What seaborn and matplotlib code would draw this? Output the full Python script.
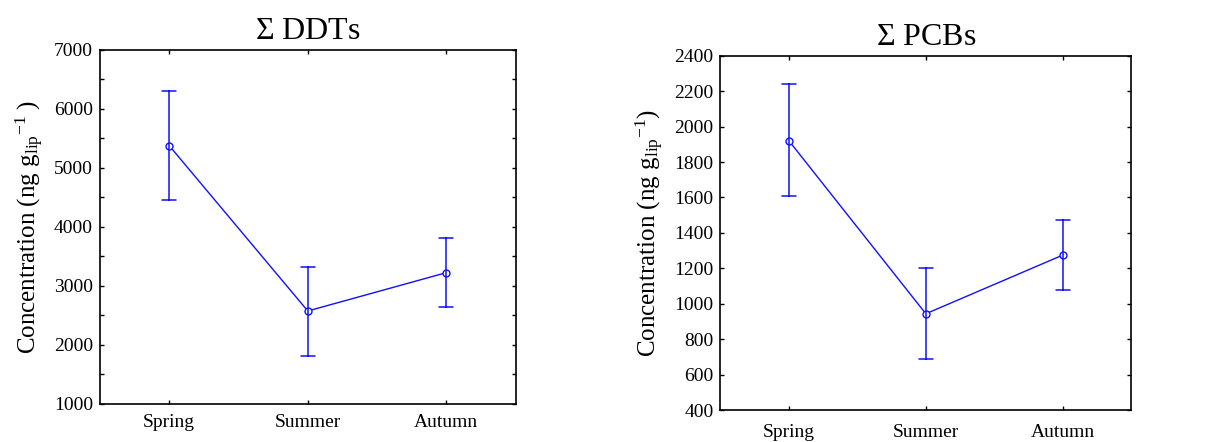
import seaborn as sns
import pandas as pd
import matplotlib.pyplot as plt
from matplotlib.ticker import MultipleLocator

# values (mean and error bar ends)
seasons = ['Spring', 'Summer', 'Autumn']
ddt_low = [4458, 1814, 2650]
ddt_mean = [5378, 2576, 3226]
ddt_high = [6310, 3328, 3814]
pcb_low = [1610, 686, 1077]
pcb_mean = [1920, 944, 1275]
pcb_high = [2239, 1203, 1474]

sns.set_style('ticks')
plt.rcParams['font.family'] = ['Liberation Serif', 'DejaVu Serif']
plt.rcParams['mathtext.fontset'] = 'custom'
plt.rcParams['mathtext.rm'] = 'Liberation Serif'
plt.rcParams['mathtext.it'] = 'Liberation Serif:italic'
for key in ['text.color', 'axes.labelcolor', 'xtick.color', 'ytick.color']:
    plt.rcParams[key] = 'black'


def long_form(low, mean, high):
    rows = []
    for s, a, m, b in zip(seasons, low, mean, high):
        for v in (a, m, b):
            rows.append({'season': s, 'value': v})
    return pd.DataFrame(rows)


fig = plt.figure(figsize=(12.19, 4.42), dpi=100)
ax1 = fig.add_axes([0.082, 0.086, 0.341, 0.801])
ax2 = fig.add_axes([0.591, 0.072, 0.337, 0.802])

panels = [
    (ax1, long_form(ddt_low, ddt_mean, ddt_high), r'$\Sigma$ DDTs',
     r'Concentration (ng g$_{\mathrm{lip}}$$^{\mathrm{-1}}$ )', (1000, 7000), 1000, 500, 7),
    (ax2, long_form(pcb_low, pcb_mean, pcb_high), r'$\Sigma$ PCBs',
     r'Concentration (ng g$_{\mathrm{lip}}$$^{\mathrm{-1}}$)', (400, 2400), 200, None, 10),
]

for ax, df, title, ylabel, ylim, major, minor, xpad in panels:
    sns.pointplot(data=df, x='season', y='value', order=seasons, ax=ax,
                  estimator='median', errorbar=lambda v: (v.min(), v.max()),
                  color='#1010ff', markers='o', linewidth=1, capsize=0.1,
                  err_kws={'linewidth': 1.1},
                  markerfacecolor='white', markeredgecolor='#1010ff',
                  markersize=5, markeredgewidth=1)
    ax.set_xlim(-0.5, 2.5)
    ax.set_ylim(*ylim)
    ax.yaxis.set_major_locator(MultipleLocator(major))
    if minor:
        ax.yaxis.set_minor_locator(MultipleLocator(minor))
    ax.tick_params(which='both', direction='in', length=3, width=1,
                   top=True, right=True, labelsize=14, color='black')
    ax.tick_params(axis='x', pad=xpad)
    ax.tick_params(axis='y', pad=5)
    for sp in ax.spines.values():
        sp.set_visible(True)
        sp.set_linewidth(1.2)
        sp.set_color('black')
    ax.set_xlabel('')
    ax.set_ylabel(ylabel, fontsize=18, labelpad=6)
    ax.set_title(title, fontsize=23, pad=8)

plt.savefig('out.png', dpi=100)
